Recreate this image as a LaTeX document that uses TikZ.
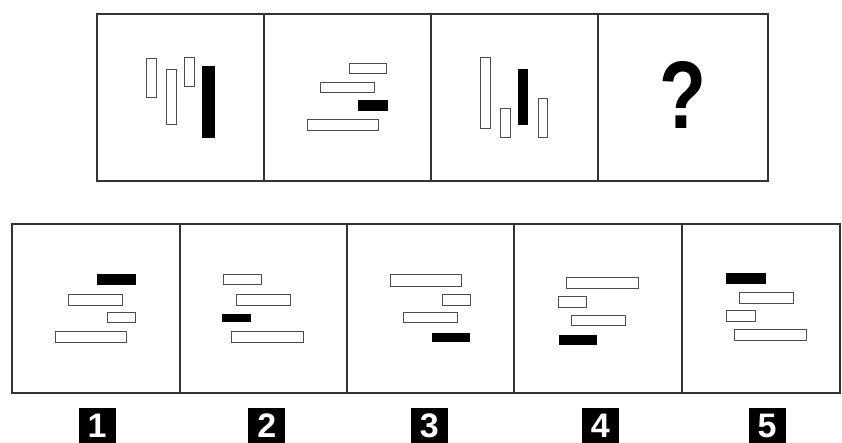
\documentclass[tikz,border=0pt]{standalone}
\usepackage{fontspec}
\setmainfont{Liberation Sans}
\colorlet{fcol}{black!80}
\tikzstyle{frame}=[line width=2pt, fcol]
\tikzstyle{bar}=[draw=black!70, line width=1pt, fill=white]
\tikzstyle{barSig}=[bar, draw=black, fill=black]
\tikzstyle{numBox}=[fill=black, text=white, inner sep=0pt, minimum width=37pt, minimum height=35pt, font=\fontsize{34}{34}\selectfont\bfseries]

\begin{document}
\begin{tikzpicture}[x=1pt, y=-1pt]
			\useasboundingbox (0,0) rectangle (842,443);
			\fill[white] (0,0) rectangle (842,443);

			% Top row
			\draw[frame] (97,14) rectangle (768,181);
			\foreach \x in {264,431,598}
				\draw[frame] (\x,14) -- (\x,181);

			% Panel 1: vertical
			\draw[bar] (146.7,59) rectangle (156.7,97.3);
			\draw[bar] (166,70) rectangle (176.7,125);
			\draw[bar] (184.3,57.3) rectangle (194.3,86.7);
			\draw[barSig] (202.7,66.7) rectangle (214,137.7);
			% Panel 2: horizontal
			\draw[bar] (349,63.3) rectangle (386,73.3);
			\draw[bar] (320.3,82.7) rectangle (374.3,92.7);
			\draw[barSig] (358.3,100.7) rectangle (387.3,110.7);
			\draw[bar] (307.3,120) rectangle (378.3,130.7);
			% Panel 3: vertical
			\draw[bar] (480.3,57.7) rectangle (490.7,128.3);
			\draw[bar] (500,109) rectangle (510.3,137.3);
			\draw[barSig] (518.3,70) rectangle (527.7,124.3);
			\draw[bar] (538.3,98.3) rectangle (547.7,137.3);
			% Panel 4
			\node[inner sep=0pt, xscale=0.8, font=\fontsize{96}{96}\selectfont\bfseries] (qm) at (683.3,95.3) {?};

			% Bottom row
			\draw[frame] (12,224) rectangle (840,393);
			\foreach \x in {180,347,514,682}
				\draw[frame] (\x,224) -- (\x,393);

			% Answer 1
			\draw[barSig] (97.3,275) rectangle (135,284.3);
			\draw[bar] (68.3,294) rectangle (122.7,305);
			\draw[bar] (107.3,312.3) rectangle (135.7,322.3);
			\draw[bar] (55.7,331) rectangle (126.7,342.7);
			% Answer 2
			\draw[bar] (223.3,275) rectangle (261.7,284.3);
			\draw[bar] (236,294) rectangle (290,305);
			\draw[barSig] (222.7,314) rectangle (250.7,321.7);
			\draw[bar] (231,331) rectangle (303.3,342.7);
			% Answer 3
			\draw[bar] (390,274.3) rectangle (461.7,286);
			\draw[bar] (442,294) rectangle (470.7,305.7);
			\draw[bar] (403.3,312.3) rectangle (457.7,322.3);
			\draw[barSig] (432.3,333.3) rectangle (469.3,341.7);
			% Answer 4
			\draw[bar] (566.7,277.7) rectangle (638.3,288.3);
			\draw[bar] (558.3,296.7) rectangle (586.7,307.3);
			\draw[bar] (571,315) rectangle (625.7,325);
			\draw[barSig] (559,335) rectangle (596.7,344.3);
			% Answer 5
			\draw[barSig] (726.7,273.3) rectangle (765,283.3);
			\draw[bar] (739,292.7) rectangle (793.3,303.3);
			\draw[bar] (726,310.7) rectangle (755,321);
			\draw[bar] (734.3,329.3) rectangle (806.7,340.7);

			% Numbers
			\node[numBox] (n1) at (97,425.5) {1};
			\node[numBox] (n2) at (266.7,425.5) {2};
			\node[numBox] (n3) at (429.2,425.5) {3};
			\node[numBox] (n4) at (600.3,425.5) {4};
			\node[numBox] (n5) at (767,425.5) {5};
		\end{tikzpicture}
\end{document}
